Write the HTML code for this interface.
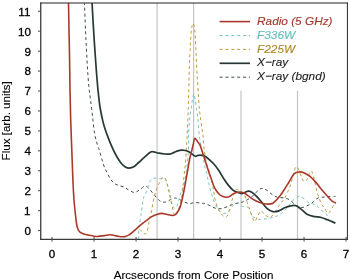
<!DOCTYPE html>
<html><head><meta charset="utf-8"><style>
html,body{margin:0;padding:0;background:#fff;width:350px;height:280px;overflow:hidden}
svg{display:block;will-change:transform}
text{font-family:"Liberation Sans",sans-serif;font-size:11.6px;fill:#000;stroke:#000;stroke-width:0.3px}
.lg{font-size:11.8px}
.tt{stroke-width:0.12px}
</style></head><body>
<svg width="350" height="280" viewBox="0 0 350 280">
<rect width="350" height="280" fill="#fff"/>
<defs><clipPath id="c"><rect x="41" y="3" width="306" height="236"/></clipPath></defs>
<g clip-path="url(#c)">
<line x1="157.1" y1="3" x2="157.1" y2="239" stroke="#c4c4c4" stroke-width="1.2"/>
<line x1="193.6" y1="3" x2="193.6" y2="239" stroke="#c4c4c4" stroke-width="1.2"/>
<line x1="241.0" y1="90.7" x2="241.0" y2="239" stroke="#c4c4c4" stroke-width="1.2"/>
<line x1="297.5" y1="90.7" x2="297.5" y2="239" stroke="#c4c4c4" stroke-width="1.2"/>
<path d="M84.40,2.00 C84.58,6.67 85.15,22.00 85.50,30.00 C85.85,38.00 86.15,43.33 86.50,50.00 C86.85,56.67 87.18,63.67 87.60,70.00 C88.02,76.33 88.48,82.83 89.00,88.00 C89.52,93.17 90.10,96.17 90.70,101.00 C91.30,105.83 91.93,111.45 92.60,117.00 C93.27,122.55 93.88,129.63 94.70,134.30 C95.52,138.97 96.67,142.13 97.50,145.00 C98.33,147.87 98.68,148.17 99.70,151.50 C100.72,154.83 102.40,161.50 103.60,165.00 C104.80,168.50 105.75,170.17 106.90,172.50 C108.05,174.83 109.32,177.20 110.50,179.00 C111.68,180.80 112.58,182.20 114.00,183.30 C115.42,184.40 117.27,184.95 119.00,185.60 C120.73,186.25 122.78,186.47 124.40,187.20 C126.03,187.93 127.08,189.12 128.75,190.00 C130.42,190.88 132.62,192.50 134.40,192.50 C136.18,192.50 137.67,191.07 139.40,190.00 C141.13,188.93 143.23,186.37 144.80,186.10 C146.37,185.83 147.45,187.20 148.80,188.40 C150.15,189.60 151.55,191.70 152.90,193.30 C154.25,194.90 155.57,196.63 156.90,198.00 C158.23,199.37 159.43,200.83 160.90,201.50 C162.37,202.17 164.10,202.32 165.70,202.00 C167.30,201.68 169.02,200.27 170.50,199.60 C171.98,198.93 173.18,198.05 174.60,198.00 C176.02,197.95 177.30,198.60 179.00,199.30 C180.70,200.00 183.03,201.48 184.80,202.20 C186.57,202.92 187.98,203.53 189.60,203.60 C191.22,203.67 192.62,202.70 194.50,202.60 C196.38,202.50 199.15,202.81 200.90,203.00 C202.65,203.19 203.48,203.32 205.00,203.75 C206.52,204.18 208.33,204.88 210.00,205.60 C211.67,206.32 213.33,207.57 215.00,208.10 C216.67,208.62 218.33,208.85 220.00,208.75 C221.67,208.65 223.33,208.03 225.00,207.50 C226.67,206.97 228.33,206.22 230.00,205.60 C231.67,204.97 233.33,204.25 235.00,203.75 C236.67,203.25 238.67,202.91 240.00,202.60 C241.33,202.29 241.67,202.43 243.00,201.90 C244.33,201.37 246.54,200.23 248.00,199.40 C249.46,198.57 250.58,197.88 251.75,196.90 C252.92,195.92 253.71,194.77 255.00,193.50 C256.29,192.23 258.25,190.15 259.50,189.30 C260.75,188.45 261.25,188.23 262.50,188.40 C263.75,188.57 265.38,189.27 267.00,190.30 C268.62,191.33 270.48,193.45 272.20,194.60 C273.92,195.75 275.30,196.63 277.30,197.20 C279.30,197.77 282.20,197.58 284.20,198.00 C286.20,198.42 287.58,198.70 289.30,199.70 C291.02,200.70 293.38,203.08 294.50,204.00 C295.62,204.92 295.17,204.70 296.00,205.20 C296.83,205.70 298.33,206.65 299.50,207.00 C300.67,207.35 301.48,207.63 303.00,207.30 C304.52,206.97 306.88,205.92 308.60,205.00 C310.32,204.08 311.73,202.97 313.30,201.80 C314.87,200.63 316.17,198.80 318.00,198.00 C319.83,197.20 322.51,197.25 324.30,197.00 C326.09,196.75 326.88,196.60 328.75,196.50 C330.62,196.40 334.38,196.42 335.50,196.40" fill="none" stroke="#3d4d4b" stroke-width="1.0" stroke-dasharray="3 2.85" stroke-linejoin="round"/>
<path d="M138.60,239.50 C138.63,237.72 138.42,232.73 138.80,228.80 C139.18,224.87 140.30,219.93 140.90,215.90 C141.50,211.87 141.95,207.65 142.40,204.60 C142.85,201.55 143.02,199.53 143.60,197.60 C144.18,195.67 144.85,195.70 145.90,193.00 C146.95,190.30 148.57,183.85 149.90,181.40 C151.23,178.95 152.33,178.75 153.90,178.30 C155.47,177.85 157.57,178.75 159.30,178.70 C161.03,178.65 163.13,177.65 164.30,178.00 C165.47,178.35 165.75,179.55 166.30,180.80 C166.85,182.05 167.10,183.70 167.60,185.50 C168.10,187.30 168.67,188.95 169.30,191.60 C169.93,194.25 170.68,198.77 171.40,201.40 C172.12,204.03 172.97,206.25 173.60,207.40 C174.23,208.55 174.67,208.45 175.20,208.30 C175.73,208.15 176.23,207.80 176.80,206.50 C177.37,205.20 177.95,202.75 178.60,200.50 C179.25,198.25 179.85,195.47 180.70,193.00 C181.55,190.53 182.92,188.37 183.70,185.70 C184.48,183.03 184.85,180.28 185.40,177.00 C185.95,173.72 186.58,169.33 187.00,166.00 C187.42,162.67 187.63,160.50 187.90,157.00 C188.17,153.50 188.48,148.83 188.60,145.00 C188.72,141.17 188.43,138.17 188.60,134.00 C188.77,129.83 189.22,123.92 189.60,120.00 C189.98,116.08 190.43,113.83 190.90,110.50 C191.37,107.17 191.92,102.78 192.40,100.00 C192.88,97.22 193.33,93.80 193.80,93.80 C194.27,93.80 194.71,97.22 195.20,100.00 C195.69,102.78 196.28,107.17 196.75,110.50 C197.22,113.83 197.59,116.00 198.00,120.00 C198.41,124.00 198.88,131.18 199.20,134.50 C199.52,137.82 199.67,138.30 199.90,139.90 C200.13,141.50 200.35,142.57 200.60,144.10 C200.85,145.63 201.08,147.78 201.40,149.10 C201.72,150.42 202.07,149.68 202.50,152.00 C202.93,154.32 203.50,160.17 204.00,163.00 C204.50,165.83 205.00,167.17 205.50,169.00 C206.00,170.83 206.58,172.17 207.00,174.00 C207.42,175.83 207.58,178.00 208.00,180.00 C208.42,182.00 209.00,184.00 209.50,186.00 C210.00,188.00 210.50,190.17 211.00,192.00 C211.50,193.83 211.93,195.25 212.50,197.00 C213.07,198.75 213.67,200.75 214.40,202.50 C215.13,204.25 215.97,206.04 216.90,207.50 C217.83,208.96 218.86,210.25 220.00,211.25 C221.14,212.25 222.60,213.29 223.75,213.50 C224.90,213.71 225.86,213.08 226.90,212.50 C227.94,211.92 229.07,211.04 230.00,210.00 C230.93,208.96 231.67,207.29 232.50,206.25 C233.33,205.21 234.15,204.34 235.00,203.75 C235.85,203.16 236.73,202.54 237.60,202.70 C238.47,202.86 239.37,204.05 240.20,204.70 C241.03,205.35 241.72,206.34 242.60,206.60 C243.48,206.86 244.60,206.10 245.50,206.25 C246.40,206.40 247.27,206.71 248.00,207.50 C248.73,208.29 249.17,209.58 249.90,211.00 C250.63,212.42 251.47,214.83 252.40,216.00 C253.33,217.17 254.23,217.43 255.50,218.00 C256.77,218.57 257.97,219.30 260.00,219.40 C262.03,219.50 265.27,219.02 267.70,218.60 C270.13,218.18 272.72,217.50 274.60,216.90 C276.48,216.30 277.60,215.82 279.00,215.00 C280.40,214.18 281.57,213.27 283.00,212.00 C284.43,210.73 285.98,209.30 287.60,207.40 C289.22,205.50 290.85,202.45 292.70,200.60 C294.55,198.75 296.98,196.73 298.70,196.30 C300.42,195.87 301.42,197.00 303.00,198.00 C304.58,199.00 306.62,201.33 308.20,202.30 C309.78,203.27 311.05,203.25 312.50,203.80 C313.95,204.35 315.44,204.52 316.90,205.60 C318.36,206.68 319.69,208.94 321.25,210.30 C322.81,211.66 325.11,212.45 326.25,213.75 C327.39,215.05 327.54,216.89 328.10,218.10 C328.66,219.31 329.35,220.52 329.60,221.00" fill="none" stroke="#79c6c3" stroke-width="1.0" stroke-dasharray="3 2.85" stroke-linejoin="round"/>
<path d="M139.50,229.50 C139.82,229.73 140.87,230.47 141.40,230.90 C141.93,231.33 142.07,231.58 142.70,232.10 C143.33,232.62 144.55,234.00 145.20,234.00 C145.85,234.00 146.15,233.05 146.60,232.10 C147.05,231.15 147.52,229.87 147.90,228.30 C148.28,226.73 148.62,224.27 148.90,222.70 C149.18,221.13 149.17,220.83 149.60,218.90 C150.03,216.97 150.93,213.82 151.50,211.10 C152.07,208.38 152.47,205.28 153.00,202.60 C153.53,199.92 154.10,197.35 154.70,195.00 C155.30,192.65 155.83,190.47 156.60,188.50 C157.37,186.53 158.40,184.90 159.30,183.20 C160.20,181.50 161.25,179.28 162.00,178.30 C162.75,177.32 163.25,177.32 163.80,177.30 C164.35,177.28 164.78,177.22 165.30,178.20 C165.82,179.18 166.38,181.40 166.90,183.20 C167.42,185.00 167.95,187.07 168.40,189.00 C168.85,190.93 169.10,192.48 169.60,194.80 C170.10,197.12 170.85,200.37 171.40,202.90 C171.95,205.43 172.42,208.07 172.90,210.00 C173.38,211.93 173.83,213.58 174.30,214.50 C174.77,215.42 175.17,215.83 175.70,215.50 C176.23,215.17 176.68,214.73 177.50,212.50 C178.32,210.27 179.77,205.68 180.60,202.10 C181.43,198.52 181.95,195.18 182.50,191.00 C183.05,186.82 183.43,181.45 183.90,177.00 C184.37,172.55 184.87,169.30 185.30,164.30 C185.73,159.30 186.25,150.88 186.50,147.00 C186.75,143.12 186.70,143.00 186.80,141.00 C186.90,139.00 186.87,140.17 187.10,135.00 C187.33,129.83 187.90,118.33 188.20,110.00 C188.50,101.67 188.73,91.33 188.90,85.00 C189.07,78.67 189.08,76.17 189.20,72.00 C189.32,67.83 189.43,63.97 189.60,60.00 C189.77,56.03 190.03,51.53 190.20,48.20 C190.37,44.87 190.42,43.03 190.60,40.00 C190.78,36.97 191.03,32.42 191.30,30.00 C191.57,27.58 191.90,26.62 192.20,25.50 C192.50,24.38 192.80,23.30 193.10,23.30 C193.40,23.30 193.73,24.38 194.00,25.50 C194.27,26.62 194.48,27.92 194.70,30.00 C194.92,32.08 195.12,34.97 195.30,38.00 C195.48,41.03 195.62,44.53 195.80,48.20 C195.98,51.87 196.22,56.07 196.40,60.00 C196.58,63.93 196.67,67.63 196.90,71.80 C197.13,75.97 197.37,78.63 197.80,85.00 C198.23,91.37 198.67,101.82 199.50,110.00 C200.33,118.18 202.15,128.93 202.80,134.10 C203.45,139.27 203.12,138.02 203.40,141.00 C203.68,143.98 203.98,148.33 204.50,152.00 C205.02,155.67 205.83,160.17 206.50,163.00 C207.17,165.83 207.92,167.00 208.50,169.00 C209.08,171.00 209.50,173.17 210.00,175.00 C210.50,176.83 211.00,178.00 211.50,180.00 C212.00,182.00 212.58,184.83 213.00,187.00 C213.42,189.17 213.75,191.25 214.00,193.00 C214.25,194.75 214.12,195.71 214.50,197.50 C214.88,199.29 215.65,201.88 216.25,203.75 C216.85,205.62 217.38,207.19 218.10,208.75 C218.82,210.31 219.66,211.85 220.60,213.10 C221.54,214.35 222.78,215.62 223.75,216.25 C224.72,216.88 225.64,217.32 226.40,216.90 C227.16,216.48 227.67,215.42 228.30,213.75 C228.93,212.08 229.68,208.78 230.20,206.90 C230.72,205.03 230.98,203.97 231.40,202.50 C231.82,201.03 232.28,199.45 232.70,198.10 C233.12,196.75 233.43,195.70 233.90,194.40 C234.37,193.10 234.92,191.12 235.50,190.30 C236.08,189.48 236.62,189.37 237.40,189.50 C238.18,189.63 239.37,190.58 240.20,191.10 C241.03,191.62 241.68,191.98 242.40,192.60 C243.12,193.22 243.72,193.18 244.50,194.80 C245.28,196.42 246.23,199.90 247.10,202.30 C247.97,204.70 248.85,206.77 249.70,209.20 C250.55,211.63 251.33,214.85 252.20,216.90 C253.07,218.95 254.03,221.60 254.90,221.50 C255.77,221.40 256.40,218.07 257.40,216.30 C258.40,214.53 259.75,211.23 260.90,210.90 C262.05,210.57 263.02,213.30 264.30,214.30 C265.58,215.30 267.17,216.75 268.60,216.90 C270.03,217.05 271.17,217.07 272.90,215.20 C274.63,213.33 277.12,208.42 279.00,205.70 C280.88,202.98 282.63,201.47 284.20,198.90 C285.77,196.33 287.27,192.88 288.40,190.30 C289.53,187.72 290.13,186.18 291.00,183.40 C291.87,180.62 292.82,176.28 293.60,173.60 C294.38,170.92 294.98,168.25 295.70,167.30 C296.42,166.35 297.07,166.62 297.90,167.90 C298.73,169.18 299.75,172.78 300.70,175.00 C301.65,177.22 302.65,180.28 303.60,181.20 C304.55,182.12 305.45,181.77 306.40,180.50 C307.35,179.23 308.47,175.20 309.30,173.60 C310.13,172.00 310.68,170.43 311.40,170.90 C312.12,171.37 312.88,173.88 313.60,176.40 C314.32,178.92 314.97,182.90 315.70,186.00 C316.43,189.10 317.07,192.08 318.00,195.00 C318.93,197.92 320.18,201.32 321.25,203.50 C322.32,205.68 323.36,206.52 324.40,208.10 C325.44,209.68 326.67,212.27 327.50,213.00 C328.33,213.73 328.77,213.10 329.40,212.50 C330.02,211.90 330.52,210.65 331.25,209.40 C331.98,208.15 333.02,206.05 333.75,205.00 C334.48,203.95 335.29,203.42 335.60,203.10" fill="none" stroke="#c39a3c" stroke-width="1.0" stroke-dasharray="3 2.85" stroke-linejoin="round"/>
<path d="M92.00,2.00 C92.17,5.00 92.63,13.67 93.00,20.00 C93.37,26.33 93.65,31.67 94.20,40.00 C94.75,48.33 95.67,61.67 96.30,70.00 C96.93,78.33 97.38,83.83 98.00,90.00 C98.62,96.17 99.18,101.77 100.00,107.00 C100.82,112.23 102.08,117.82 102.90,121.40 C103.72,124.98 104.12,126.05 104.90,128.50 C105.68,130.95 106.52,133.23 107.60,136.10 C108.68,138.97 110.02,142.55 111.40,145.70 C112.78,148.85 114.30,152.12 115.90,155.00 C117.50,157.88 119.42,161.00 121.00,163.00 C122.58,165.00 124.03,166.15 125.40,167.00 C126.77,167.85 127.81,168.13 129.20,168.10 C130.59,168.07 132.16,167.73 133.75,166.80 C135.34,165.87 136.96,164.10 138.75,162.50 C140.54,160.90 142.53,158.93 144.50,157.20 C146.47,155.47 149.06,152.98 150.60,152.10 C152.14,151.22 152.39,151.73 153.75,151.90 C155.11,152.07 156.88,152.75 158.75,153.10 C160.62,153.45 163.12,153.83 165.00,154.00 C166.88,154.17 168.54,154.33 170.00,154.10 C171.46,153.87 172.58,153.10 173.75,152.60 C174.92,152.10 175.62,151.52 177.00,151.10 C178.38,150.68 180.58,150.20 182.00,150.10 C183.42,150.00 184.42,150.25 185.50,150.50 C186.58,150.75 187.48,151.07 188.50,151.60 C189.52,152.13 190.47,152.92 191.60,153.70 C192.73,154.48 194.23,156.03 195.30,156.30 C196.37,156.57 196.83,155.47 198.00,155.30 C199.17,155.13 201.05,155.10 202.30,155.30 C203.55,155.50 204.28,155.72 205.50,156.50 C206.72,157.28 208.10,158.62 209.60,160.00 C211.10,161.38 212.88,162.92 214.50,164.80 C216.12,166.68 217.70,168.88 219.30,171.30 C220.90,173.72 222.63,177.03 224.10,179.30 C225.57,181.57 226.63,183.10 228.10,184.90 C229.57,186.70 231.43,188.90 232.90,190.10 C234.37,191.30 235.38,191.52 236.90,192.10 C238.42,192.68 240.28,193.73 242.00,193.60 C243.72,193.47 245.63,191.58 247.20,191.30 C248.77,191.02 249.83,191.07 251.40,191.90 C252.97,192.73 254.88,194.57 256.60,196.30 C258.32,198.03 259.98,200.30 261.70,202.30 C263.42,204.30 265.03,206.75 266.90,208.30 C268.77,209.85 270.90,211.17 272.90,211.60 C274.90,212.03 276.95,211.53 278.90,210.90 C280.85,210.27 282.63,208.65 284.60,207.80 C286.57,206.95 288.80,206.15 290.70,205.80 C292.60,205.45 294.33,205.20 296.00,205.70 C297.67,206.20 298.87,207.38 300.70,208.80 C302.53,210.22 304.90,212.95 307.00,214.20 C309.10,215.45 310.93,215.75 313.30,216.30 C315.67,216.85 318.83,216.92 321.20,217.50 C323.57,218.08 325.13,218.87 327.50,219.80 C329.87,220.73 334.08,222.55 335.40,223.10" fill="none" stroke="#273936" stroke-width="1.7" stroke-linejoin="round"/>
<path d="M68.50,2.00 C68.58,6.67 68.82,20.33 69.00,30.00 C69.18,39.67 69.43,50.00 69.60,60.00 C69.77,70.00 69.82,80.00 70.00,90.00 C70.18,100.00 70.40,110.00 70.70,120.00 C71.00,130.00 71.43,140.00 71.80,150.00 C72.17,160.00 72.53,171.67 72.90,180.00 C73.27,188.33 73.57,194.17 74.00,200.00 C74.43,205.83 75.07,211.00 75.50,215.00 C75.93,219.00 76.18,221.62 76.60,224.00 C77.02,226.38 77.43,227.93 78.00,229.30 C78.57,230.67 79.05,231.43 80.00,232.20 C80.95,232.97 82.22,233.40 83.70,233.90 C85.18,234.40 87.18,234.82 88.90,235.20 C90.62,235.58 92.43,236.00 94.00,236.20 C95.57,236.40 96.58,236.50 98.30,236.40 C100.02,236.30 102.30,235.88 104.30,235.60 C106.30,235.32 108.30,234.65 110.30,234.70 C112.30,234.75 114.58,235.57 116.30,235.90 C118.02,236.23 119.17,236.58 120.60,236.70 C122.03,236.82 123.48,236.90 124.90,236.60 C126.32,236.30 127.68,235.77 129.10,234.90 C130.52,234.03 131.97,232.62 133.40,231.40 C134.83,230.18 136.42,228.73 137.70,227.60 C138.98,226.47 139.88,225.60 141.10,224.60 C142.32,223.60 143.31,222.88 145.00,221.60 C146.69,220.32 149.17,218.13 151.25,216.90 C153.33,215.67 155.71,214.78 157.50,214.20 C159.29,213.62 160.50,213.38 162.00,213.40 C163.50,213.42 165.07,214.00 166.50,214.30 C167.93,214.60 169.53,215.02 170.60,215.20 C171.67,215.38 172.12,215.50 172.90,215.40 C173.68,215.30 174.57,215.12 175.30,214.60 C176.03,214.08 176.55,213.42 177.30,212.30 C178.05,211.18 179.02,209.95 179.80,207.90 C180.58,205.85 181.28,202.98 182.00,200.00 C182.72,197.02 183.40,193.57 184.10,190.00 C184.80,186.43 185.52,182.43 186.20,178.60 C186.88,174.77 187.57,170.52 188.20,167.00 C188.83,163.48 189.40,160.25 190.00,157.50 C190.60,154.75 191.23,152.83 191.80,150.50 C192.37,148.17 192.93,145.52 193.40,143.50 C193.87,141.48 193.93,138.77 194.60,138.40 C195.27,138.03 196.52,140.22 197.40,141.30 C198.28,142.38 199.18,143.47 199.90,144.90 C200.62,146.33 200.75,147.05 201.70,149.90 C202.65,152.75 204.30,157.98 205.60,162.00 C206.90,166.02 208.48,171.00 209.50,174.00 C210.52,177.00 211.02,178.08 211.70,180.00 C212.38,181.92 212.88,183.78 213.60,185.50 C214.32,187.22 215.02,188.80 216.00,190.30 C216.98,191.80 218.33,193.45 219.50,194.50 C220.67,195.55 221.83,196.13 223.00,196.60 C224.17,197.07 225.33,197.37 226.50,197.30 C227.67,197.23 228.75,196.85 230.00,196.20 C231.25,195.55 232.28,194.10 234.00,193.40 C235.72,192.70 238.40,191.95 240.30,192.00 C242.20,192.05 243.40,192.55 245.40,193.70 C247.40,194.85 250.00,197.47 252.30,198.90 C254.60,200.33 256.92,201.45 259.20,202.30 C261.48,203.15 263.72,203.85 266.00,204.00 C268.28,204.15 270.62,204.48 272.90,203.20 C275.18,201.92 277.70,198.73 279.70,196.30 C281.70,193.87 283.32,191.03 284.90,188.60 C286.48,186.17 287.63,184.20 289.20,181.70 C290.77,179.20 292.62,175.23 294.30,173.60 C295.98,171.97 297.63,172.02 299.30,171.90 C300.97,171.78 302.52,172.15 304.30,172.90 C306.08,173.65 308.10,174.87 310.00,176.40 C311.90,177.93 313.80,179.95 315.70,182.10 C317.60,184.25 319.37,186.85 321.40,189.30 C323.43,191.75 326.12,194.83 327.90,196.80 C329.68,198.77 330.75,200.07 332.10,201.10 C333.45,202.13 335.35,202.68 336.00,203.00" fill="none" stroke="#a93a2b" stroke-width="1.6" stroke-linejoin="round"/>
</g>
<line x1="40.2" y1="3" x2="347.9" y2="3" stroke="#222" stroke-width="1.05"/>
<line x1="347.45" y1="2.5" x2="347.45" y2="240.1" stroke="#3a3a3a" stroke-width="1.1"/>
<line x1="40.75" y1="2.5" x2="40.75" y2="240.1" stroke="#3a3a3a" stroke-width="1.3"/>
<line x1="40.1" y1="239.45" x2="348" y2="239.45" stroke="#3a3a3a" stroke-width="1.2"/>
<line x1="38" y1="230.60" x2="40.7" y2="230.60" stroke="#4a4a4a" stroke-width="1"/>
<text x="31" y="235.00" text-anchor="end">0</text>
<line x1="38" y1="210.66" x2="40.7" y2="210.66" stroke="#4a4a4a" stroke-width="1"/>
<text x="30.4" y="215.06" text-anchor="end">1</text>
<line x1="38" y1="190.72" x2="40.7" y2="190.72" stroke="#4a4a4a" stroke-width="1"/>
<text x="31" y="195.12" text-anchor="end">2</text>
<line x1="38" y1="170.78" x2="40.7" y2="170.78" stroke="#4a4a4a" stroke-width="1"/>
<text x="31" y="175.18" text-anchor="end">3</text>
<line x1="38" y1="150.84" x2="40.7" y2="150.84" stroke="#4a4a4a" stroke-width="1"/>
<text x="31" y="155.24" text-anchor="end">4</text>
<line x1="38" y1="130.90" x2="40.7" y2="130.90" stroke="#4a4a4a" stroke-width="1"/>
<text x="31" y="135.30" text-anchor="end">5</text>
<line x1="38" y1="110.96" x2="40.7" y2="110.96" stroke="#4a4a4a" stroke-width="1"/>
<text x="31" y="115.36" text-anchor="end">6</text>
<line x1="38" y1="91.02" x2="40.7" y2="91.02" stroke="#4a4a4a" stroke-width="1"/>
<text x="31" y="95.42" text-anchor="end">7</text>
<line x1="38" y1="71.08" x2="40.7" y2="71.08" stroke="#4a4a4a" stroke-width="1"/>
<text x="31" y="75.48" text-anchor="end">8</text>
<line x1="38" y1="51.14" x2="40.7" y2="51.14" stroke="#4a4a4a" stroke-width="1"/>
<text x="31" y="55.54" text-anchor="end">9</text>
<line x1="38" y1="31.20" x2="40.7" y2="31.20" stroke="#4a4a4a" stroke-width="1"/>
<text x="31" y="35.60" text-anchor="end">10</text>
<line x1="38" y1="11.26" x2="40.7" y2="11.26" stroke="#4a4a4a" stroke-width="1"/>
<text x="30.4" y="15.66" text-anchor="end">11</text>
<line x1="52.05" y1="237" x2="52.05" y2="241.6" stroke="#4a4a4a" stroke-width="1"/>
<text x="52.05" y="257.7" text-anchor="middle">0</text>
<line x1="94.05" y1="237" x2="94.05" y2="241.6" stroke="#4a4a4a" stroke-width="1"/>
<text x="94.05" y="257.7" text-anchor="middle">1</text>
<line x1="136.05" y1="237" x2="136.05" y2="241.6" stroke="#4a4a4a" stroke-width="1"/>
<text x="136.05" y="257.7" text-anchor="middle">2</text>
<line x1="178.05" y1="237" x2="178.05" y2="241.6" stroke="#4a4a4a" stroke-width="1"/>
<text x="178.05" y="257.7" text-anchor="middle">3</text>
<line x1="220.05" y1="237" x2="220.05" y2="241.6" stroke="#4a4a4a" stroke-width="1"/>
<text x="220.05" y="257.7" text-anchor="middle">4</text>
<line x1="262.05" y1="237" x2="262.05" y2="241.6" stroke="#4a4a4a" stroke-width="1"/>
<text x="262.05" y="257.7" text-anchor="middle">5</text>
<line x1="304.05" y1="237" x2="304.05" y2="241.6" stroke="#4a4a4a" stroke-width="1"/>
<text x="304.05" y="257.7" text-anchor="middle">6</text>
<line x1="346.05" y1="237" x2="346.05" y2="241.6" stroke="#4a4a4a" stroke-width="1"/>
<text x="346.05" y="257.7" text-anchor="middle">7</text>
<text class="tt" x="193.6" y="278.5" text-anchor="middle">Arcseconds from Core Position</text>
<text class="tt" transform="translate(9.9,120.8) rotate(-90)" text-anchor="middle">Flux [arb. units]</text>
<line x1="219.6" y1="21.60" x2="250" y2="21.60" stroke="#a93a2b" stroke-width="1.6"/>
<text class="lg" x="257.1" y="24.70" style="fill:#a5372a;stroke:#a5372a;stroke-width:0.12px;font-style:italic">Radio (5 GHz)</text>
<line x1="219.6" y1="35.50" x2="250" y2="35.50" stroke="#79c6c3" stroke-width="1.0" stroke-dasharray="3 2.85"/>
<text class="lg" x="257.1" y="38.60" style="fill:#64bcb7;stroke:#64bcb7;stroke-width:0.12px;font-style:italic">F336W</text>
<line x1="219.6" y1="49.40" x2="250" y2="49.40" stroke="#c39a3c" stroke-width="1.0" stroke-dasharray="3 2.85"/>
<text class="lg" x="257.1" y="52.50" style="fill:#ae8824;stroke:#ae8824;stroke-width:0.12px;font-style:italic">F225W</text>
<line x1="219.6" y1="63.30" x2="250" y2="63.30" stroke="#273936" stroke-width="1.7"/>
<text class="lg" x="257.1" y="66.40" style="fill:#222;stroke:#222;stroke-width:0.12px;font-style:italic">X−ray</text>
<line x1="219.6" y1="77.20" x2="250" y2="77.20" stroke="#3d4d4b" stroke-width="1.0" stroke-dasharray="3 2.85"/>
<text class="lg" x="257.1" y="80.30" style="fill:#222;stroke:#222;stroke-width:0.12px;font-style:italic">X−ray (bgnd)</text>
</svg>
</body></html>
